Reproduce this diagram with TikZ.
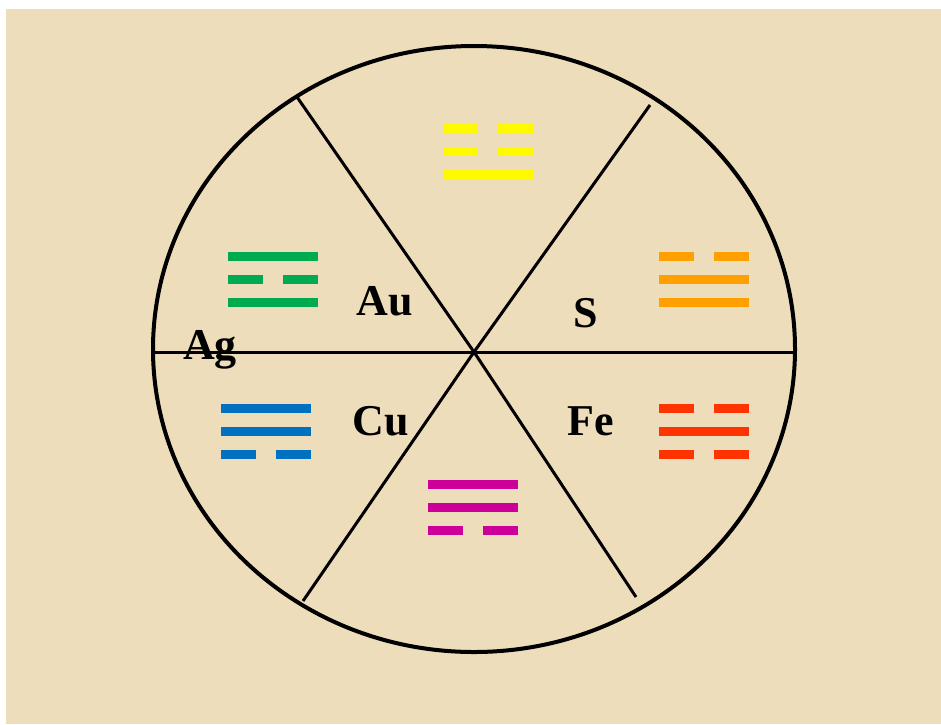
\documentclass[tikz,border=0pt]{standalone}
\usepackage{fontspec}
\setmainfont{Liberation Serif}
\definecolor{paper}{RGB}{237,221,186}
\definecolor{tyellow}{RGB}{255,250,0}
\definecolor{tgreen}{RGB}{0,170,80}
\definecolor{torange}{RGB}{255,160,0}
\definecolor{tblue}{RGB}{0,112,192}
\definecolor{tred}{RGB}{255,51,0}
\definecolor{tmagenta}{RGB}{204,0,153}
\newcommand\tline[4]{%
  \ifnum#4=1
    \draw[bar,#1] (#2,#3) -- ++(90,0);
  \else
    \draw[bar,#1] (#2,#3) -- ++(35,0) (#2+55,#3) -- ++(35,0);
  \fi}
\newcommand\trigram[6]{%
  \tline{#1}{#2}{#3}{#4}%
  \tline{#1}{#2}{#3+23}{#5}%
  \tline{#1}{#2}{#3+46}{#6}}
\begin{document}
\begin{tikzpicture}[x=1pt,y=-1pt,
  bar/.style={line width=9pt,line cap=butt},
  spoke/.style={line width=3pt,black},
  rim/.style={line width=4pt,black},
  elem/.style={font=\bfseries\fontsize{44}{44}\selectfont,anchor=base,inner sep=0pt}]
\useasboundingbox (0,0) rectangle (941,724);
\fill[white] (0,0) rectangle (941,724);
\fill[paper] (6,9) rectangle (941,724);
% wheel
\coordinate (c) at (474,352);
\coordinate (w) at (153,352);
\coordinate (e) at (795,352);
\coordinate (nw) at (297,97);
\coordinate (ne) at (650,105);
\coordinate (sw) at (303,601);
\coordinate (se) at (636,597);
\draw[rim] (474,349) ellipse [x radius=321, y radius=303];
\draw[spoke] (w) -- (e);
\draw[spoke] (nw) -- (c) -- (se);
\draw[spoke] (ne) -- (c) -- (sw);
% trigrams
\trigram{tyellow}{443}{128}{0}{0}{1}
\trigram{tgreen}{228}{256}{1}{0}{1}
\trigram{torange}{659}{256}{0}{1}{1}
\trigram{tblue}{221}{408}{1}{1}{0}
\trigram{tred}{659}{408}{0}{1}{0}
\trigram{tmagenta}{428}{484}{1}{1}{0}
% labels
\node[elem] (au) at (385,315) {Au};
\node[elem] (s) at (586,327) {S};
\node[elem] (ag) at (210,359) {Ag};
\node[elem] (cu) at (381,435) {Cu};
\node[elem] (fe) at (591,435) {Fe};
\end{tikzpicture}
\end{document}
